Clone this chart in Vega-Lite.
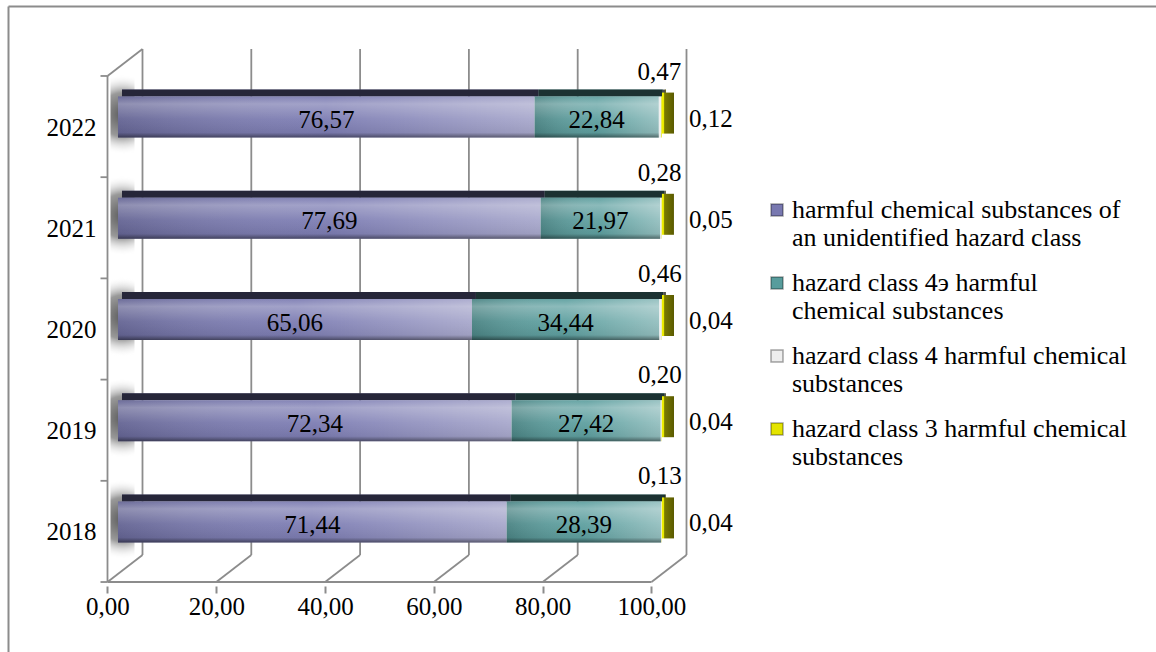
{
  "$schema": "https://vega.github.io/schema/vega-lite/v6.json",
  "width": 1148,
  "height": 646,
  "autosize": "none",
  "padding": {"left": 8, "top": 6, "right": 0, "bottom": 0},
  "background": "#ffffff",
  "config": {
    "view": {"stroke": null},
    "font": "Liberation Serif",
    "text": {"font": "Liberation Serif", "fontSize": 25, "color": "#000000"},
    "locale": {"number": {"decimal": ",", "thousands": " ", "grouping": [3], "currency": ["", ""]}}
  },
  "datasets": {
    "shares": [
      {"year": 2018, "k": 1, "series": "unidentified class", "value": 71.44},
      {"year": 2018, "k": 2, "series": "class 4э", "value": 28.39},
      {"year": 2018, "k": 3, "series": "class 4", "value": 0.13},
      {"year": 2018, "k": 4, "series": "class 3", "value": 0.04},
      {"year": 2019, "k": 1, "series": "unidentified class", "value": 72.34},
      {"year": 2019, "k": 2, "series": "class 4э", "value": 27.42},
      {"year": 2019, "k": 3, "series": "class 4", "value": 0.20},
      {"year": 2019, "k": 4, "series": "class 3", "value": 0.04},
      {"year": 2020, "k": 1, "series": "unidentified class", "value": 65.06},
      {"year": 2020, "k": 2, "series": "class 4э", "value": 34.44},
      {"year": 2020, "k": 3, "series": "class 4", "value": 0.46},
      {"year": 2020, "k": 4, "series": "class 3", "value": 0.04},
      {"year": 2021, "k": 1, "series": "unidentified class", "value": 77.69},
      {"year": 2021, "k": 2, "series": "class 4э", "value": 21.97},
      {"year": 2021, "k": 3, "series": "class 4", "value": 0.28},
      {"year": 2021, "k": 4, "series": "class 3", "value": 0.05},
      {"year": 2022, "k": 1, "series": "unidentified class", "value": 76.57},
      {"year": 2022, "k": 2, "series": "class 4э", "value": 22.84},
      {"year": 2022, "k": 3, "series": "class 4", "value": 0.47},
      {"year": 2022, "k": 4, "series": "class 3", "value": 0.12}
    ],
    "ticks": [{"t": 0}, {"t": 20}, {"t": 40}, {"t": 60}, {"t": 80}, {"t": 100}],
    "bounds": [{"b": 2017.5}, {"b": 2018.5}, {"b": 2019.5}, {"b": 2020.5}, {"b": 2021.5}, {"b": 2022.5}]
  },
  "layer": [
    {
      "data": {"values": [{}]},
      "mark": {"type": "point", "opacity": 0},
      "encoding": {
        "x": {"datum": 0, "type": "quantitative", "scale": {"domain": [-18.29, 192.739], "nice": false, "zero": false},
              "axis": {"orient": "top", "domain": true, "domainColor": "#8c8c8c", "domainWidth": 2, "ticks": false, "labels": false,
                       "grid": true, "values": [-18.29], "gridColor": "#8c8c8c", "gridWidth": 2, "gridOpacity": 1, "title": null}},
        "y": {"datum": 2020, "type": "quantitative", "scale": {"domain": [2016.858, 2023.142], "nice": false, "zero": false}, "axis": null}
      }
    },
    {
      "data": {"name": "ticks"},
      "mark": {"type": "rule", "color": "#8c8c8c", "strokeWidth": 1.8, "xOffset": 35, "yOffset": -27, "y2Offset": -27},
      "encoding": {
        "x": {"field": "t", "type": "quantitative",
              "axis": {"orient": "bottom", "values": [0, 20, 40, 60, 80, 100], "format": ".2f", "offset": -66, "domain": false,
                       "ticks": true, "tickSize": 7, "tickColor": "#8c8c8c", "tickWidth": 2, "labelFont": "Liberation Serif",
                       "labelFontSize": 25, "labelColor": "#000000", "labelPadding": 1, "grid": false, "title": null}},
        "y": {"datum": 2017.5, "type": "quantitative", "axis": null},
        "y2": {"datum": 2022.5}
      }
    },
    {
      "data": {"name": "ticks"},
      "mark": {"type": "rule", "color": "#8c8c8c", "strokeWidth": 1.8, "x2Offset": 35, "y2Offset": -27},
      "encoding": {
        "x": {"field": "t", "type": "quantitative", "axis": null},
        "x2": {"field": "t"},
        "y": {"datum": 2017.5, "type": "quantitative", "axis": null},
        "y2": {"datum": 2017.5}
      }
    },
    {
      "data": {"values": [{}]},
      "mark": {"type": "rule", "color": "#8c8c8c", "strokeWidth": 1.8, "x2Offset": 35, "y2Offset": -27},
      "encoding": {
        "x": {"datum": 0, "type": "quantitative", "axis": null},
        "x2": {"datum": 0},
        "y": {"datum": 2022.5, "type": "quantitative", "axis": null},
        "y2": {"datum": 2022.5}
      }
    },
    {
      "data": {"values": [{}]},
      "mark": {"type": "rule", "color": "#8c8c8c", "strokeWidth": 1.8},
      "encoding": {
        "x": {"datum": 0, "type": "quantitative", "axis": null},
        "y": {"datum": 2017.5, "type": "quantitative", "axis": null},
        "y2": {"datum": 2022.5}
      }
    },
    {
      "data": {"values": [{}]},
      "mark": {"type": "rule", "color": "#8c8c8c", "strokeWidth": 1.8},
      "encoding": {
        "x": {"datum": 0, "type": "quantitative", "axis": null},
        "x2": {"datum": 100},
        "y": {"datum": 2017.5, "type": "quantitative", "axis": null}
      }
    },
    {
      "data": {"name": "bounds"},
      "mark": {"type": "rule", "color": "#8c8c8c", "strokeWidth": 1.8, "xOffset": -7},
      "encoding": {
        "x": {"datum": 0, "type": "quantitative", "axis": null},
        "x2": {"datum": 0},
        "y": {"field": "b", "type": "quantitative", "axis": null}
      }
    },
    {
      "data": {"name": "shares"},
      "transform": [
        {"stack": "value", "groupby": ["year"], "sort": [{"field": "k", "order": "ascending"}], "as": ["x0", "x1"]}
      ],
      "layer": [
        {
          "transform": [{"filter": "datum.k == 1"}],
          "mark": {"type": "bar", "orient": "horizontal", "height": 80, "xOffset": 3, "x2Offset": 27, "yOffset": -12, "stroke": null,
                   "fill": {"gradient": "radial", "x1": 0.5, "y1": 0.5, "r1": 0, "x2": 0.5, "y2": 0.5, "r2": 0.5,
                            "stops": [{"offset": 0, "color": "rgba(80,80,80,0.95)"}, {"offset": 0.55, "color": "rgba(110,110,110,0.7)"}, {"offset": 1, "color": "rgba(255,255,255,0)"}]}},
          "encoding": {
            "x": {"datum": 0, "type": "quantitative", "axis": null},
            "x2": {"datum": 0},
            "y": {"field": "year", "type": "quantitative", "axis": null}
          }
        },
        {
          "mark": {"type": "bar", "orient": "horizontal", "height": 7, "xOffset": 14.5, "x2Offset": 14.5, "yOffset": -33.5, "stroke": null},
          "encoding": {
            "x": {"field": "x0", "type": "quantitative", "axis": null},
            "x2": {"field": "x1"},
            "y": {"field": "year", "type": "quantitative", "axis": null},
            "color": {
              "field": "series", "type": "nominal",
              "scale": {"domain": ["unidentified class", "class 4э", "class 4", "class 3"],
                        "range": ["#7878b0", "#589c9c", "#eeeeee", "#e4e400"]},
              "legend": {
                "orient": "none", "legendX": 756, "legendY": 191, "title": null, "padding": 0,
                "symbolType": "square", "symbolSize": 144, "symbolStrokeColor": "rgba(0,0,0,0.35)", "symbolStrokeWidth": 1.5,
                "labelFont": "Liberation Serif", "labelFontSize": 26, "labelColor": "#000000", "labelLimit": 420,
                "labelOffset": 2, "rowPadding": 19,
                "labelExpr": "datum.label == 'unidentified class' ? ['harmful chemical substances of', 'an unidentified hazard class'] : datum.label == 'class 4э' ? ['hazard class 4э harmful', 'chemical substances'] : datum.label == 'class 4' ? ['hazard class 4 harmful chemical', 'substances'] : ['hazard class 3 harmful chemical', 'substances']",
                "encode": {"labels": {"update": {"lineHeight": {"value": 28}}}}
              }
            }
          }
        },
        {
          "mark": {"type": "bar", "orient": "horizontal", "height": 7, "xOffset": 14.5, "x2Offset": 14.5, "yOffset": -33.5, "stroke": null, "fill": "#000000", "opacity": 0.68},
          "encoding": {
            "x": {"field": "x0", "type": "quantitative", "axis": null},
            "x2": {"field": "x1"},
            "y": {"field": "year", "type": "quantitative", "axis": null}
          }
        },
        {
          "mark": {"type": "bar", "orient": "horizontal", "height": 41, "xOffset": 10.5, "x2Offset": 10.5, "yOffset": -9.5, "stroke": null},
          "encoding": {
            "x": {"field": "x0", "type": "quantitative", "axis": null},
            "x2": {"field": "x1"},
            "y": {"field": "year", "type": "quantitative", "axis": null},
            "color": {"field": "series", "type": "nominal", "legend": null}
          }
        },
        {
          "transform": [{"filter": "datum.k <= 2"}],
          "mark": {"type": "bar", "orient": "horizontal", "height": 41, "xOffset": 10.5, "x2Offset": 10.5, "yOffset": -9.5, "stroke": null,
                   "fill": {"gradient": "linear", "x1": 0, "y1": 0, "x2": 1, "y2": 0,
                            "stops": [{"offset": 0, "color": "rgba(0,0,0,0.16)"}, {"offset": 0.5, "color": "rgba(255,255,255,0.04)"}, {"offset": 1, "color": "rgba(255,255,255,0.36)"}]}},
          "encoding": {
            "x": {"field": "x0", "type": "quantitative", "axis": null},
            "x2": {"field": "x1"},
            "y": {"field": "year", "type": "quantitative", "axis": null}
          }
        },
        {
          "transform": [{"filter": "datum.k <= 2"}],
          "mark": {"type": "bar", "orient": "horizontal", "height": 41, "xOffset": 10.5, "x2Offset": 10.5, "yOffset": -9.5, "stroke": null,
                   "fill": {"gradient": "linear", "x1": 0, "y1": 0, "x2": 0, "y2": 1,
                            "stops": [{"offset": 0, "color": "rgba(255,255,255,0.05)"}, {"offset": 0.18, "color": "rgba(255,255,255,0.28)"},
                                      {"offset": 0.55, "color": "rgba(255,255,255,0.05)"}, {"offset": 0.88, "color": "rgba(0,0,0,0.06)"},
                                      {"offset": 1, "color": "rgba(0,0,0,0.45)"}]}},
          "encoding": {
            "x": {"field": "x0", "type": "quantitative", "axis": null},
            "x2": {"field": "x1"},
            "y": {"field": "year", "type": "quantitative", "axis": null}
          }
        },
        {
          "transform": [{"filter": "datum.k == 4"}],
          "mark": {"type": "bar", "orient": "horizontal", "height": 41, "xOffset": 10.5, "x2Offset": 22.5, "yOffset": -13.5, "stroke": null,
                   "fill": {"gradient": "linear", "x1": 0, "y1": 0, "x2": 1, "y2": 0,
                            "stops": [{"offset": 0, "color": "#eeee00"}, {"offset": 0.12, "color": "#eeee00"}, {"offset": 0.22, "color": "#7a7a00"}, {"offset": 1, "color": "#5a5a00"}]}},
          "encoding": {
            "x": {"field": "x1", "type": "quantitative", "axis": null},
            "x2": {"field": "x1"},
            "y": {"field": "year", "type": "quantitative", "axis": null}
          }
        },
        {
          "transform": [
            {"filter": "datum.k <= 2"},
            {"fold": ["x0", "x1"], "as": ["edge", "pos"]},
            {"aggregate": [{"op": "mean", "field": "pos", "as": "mid"}], "groupby": ["year", "k", "value"]}
          ],
          "mark": {"type": "text", "align": "center", "baseline": "middle", "xOffset": 10.5, "yOffset": -6.5},
          "encoding": {
            "x": {"field": "mid", "type": "quantitative", "axis": null},
            "y": {"field": "year", "type": "quantitative", "axis": null},
            "text": {"field": "value", "type": "quantitative", "format": ".2f"}
          }
        },
        {
          "transform": [{"filter": "datum.k == 3"}],
          "mark": {"type": "text", "align": "center", "baseline": "middle", "xOffset": 8.5, "yOffset": -55},
          "encoding": {
            "x": {"field": "x1", "type": "quantitative", "axis": null},
            "y": {"field": "year", "type": "quantitative", "axis": null},
            "text": {"field": "value", "type": "quantitative", "format": ".2f"}
          }
        },
        {
          "transform": [{"filter": "datum.k == 4"}],
          "mark": {"type": "text", "align": "left", "baseline": "middle", "xOffset": 37.5, "yOffset": -8},
          "encoding": {
            "x": {"field": "x1", "type": "quantitative", "axis": null},
            "y": {"field": "year", "type": "quantitative", "axis": null},
            "text": {"field": "value", "type": "quantitative", "format": ".2f"}
          }
        },
        {
          "transform": [{"filter": "datum.k == 1"}],
          "mark": {"type": "text", "align": "right", "baseline": "middle", "xOffset": -11, "yOffset": 1},
          "encoding": {
            "x": {"datum": 0, "type": "quantitative", "axis": null},
            "y": {"field": "year", "type": "quantitative", "axis": null},
            "text": {"field": "year", "type": "quantitative", "format": "d"}
          }
        }
      ]
    }
  ]
}
